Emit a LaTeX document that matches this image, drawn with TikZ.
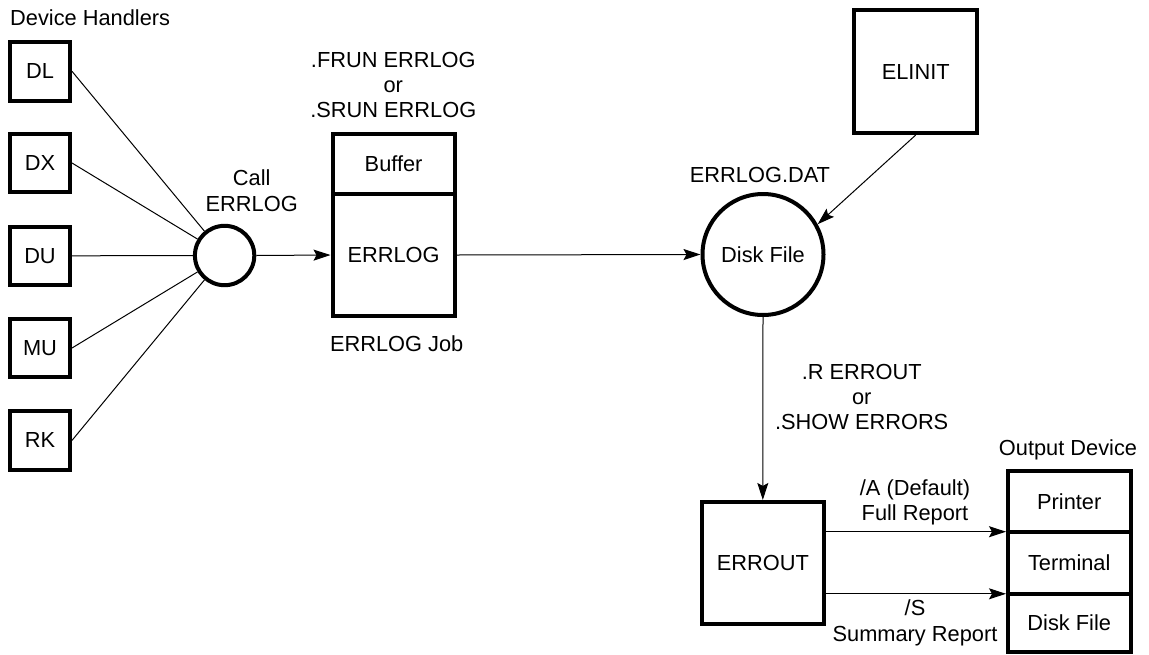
\documentclass[tikz,border=0pt]{standalone}
\usepackage{fontspec}
\setmainfont{Liberation Sans}
\usetikzlibrary{arrows.meta}
\newcommand{\stacked}[1]{\begin{tabular}[t]{@{}c@{}}#1\end{tabular}}
\begin{document}
\begin{tikzpicture}[x=1pt,y=-1pt,
  every node/.style={font=\fontsize{21.8}{25.3}\selectfont, inner sep=0pt},
  box/.style={draw, line width=4pt, rectangle},
  devbox/.style={box, minimum width=60pt, minimum height=58.5pt},
  bigbox/.style={box, minimum width=122pt, minimum height=122pt},
  outbox/.style={box, outer sep=0pt, minimum width=122.5pt},
  ring/.style={draw, line width=4pt, circle},
  label/.style={anchor=base},
  feed/.style={line width=1pt},
  arr/.style={line width=1pt, -{Stealth[length=17pt,width=11pt,inset=3pt]}}]

\useasboundingbox (0,0) rectangle (1149,654);

% device handlers
\node[anchor=base west] (devhead) at (10,25) {Device Handlers};
\node[devbox] (dl) at (40,71.3) {DL};
\node[devbox] (dx) at (40,163) {DX};
\node[devbox] (du) at (40,255.8) {DU};
\node[devbox] (mu) at (40,348) {MU};
\node[devbox] (rk) at (40,440.4) {RK};

% call point
\node[ring, minimum size=59.4pt] (call) at (224.6,255.5) {};
\node[label] (calltxt) at (251.7,185.7) {\stacked{Call\\ERRLOG}};

% ERRLOG job
\node[label] (runtxt) at (393.3,67.3) {\stacked{.FRUN ERRLOG\\or\\.SRUN ERRLOG}};
\node[box, minimum width=122.2pt, minimum height=60.1pt] (buffer) at (393.6,163.75) {Buffer};
\node[box, minimum width=122.2pt, minimum height=122.4pt] (errlog) at (393.6,255) {ERRLOG};
\node[label] (jobtxt) at (396.7,351.7) {ERRLOG Job};

% error log file
\node[ring, minimum size=121pt] (disk) at (763,254.5) {Disk File};
\node[label] (dattxt) at (760,182.7) {ERRLOG.DAT};
\node[box, minimum width=122.5pt, minimum height=122.7pt] (elinit) at (915.7,71.7) {ELINIT};

% report program
\node[label] (showtxt) at (861.7,379) {\stacked{.R ERROUT\\or\\.SHOW ERRORS}};
\node[bigbox, minimum width=121.7pt, minimum height=121.7pt] (errout) at (762.8,562.8) {ERROUT};

% output devices
\node[label] (outhead) at (1068,455) {Output Device};
\node[outbox, minimum height=60.4pt] (printer) at (1069.25,501.5) {Printer};
\node[outbox, minimum height=62.1pt] (terminal) at (1069.25,562.75) {Terminal};
\node[outbox, minimum height=58.2pt] (diskout) at (1069.25,622.9) {Disk File};
\node[label] (fulltxt) at (915,495) {\stacked{/A (Default)\\Full Report}};
\node[label] (sumtxt) at (915,615.7) {\stacked{/S\\Summary Report}};

% connectors
\draw[feed] (dl.east) -- (call);
\draw[feed] (dx.east) -- (call);
\draw[feed] (du.east) -- (call);
\draw[feed] (mu.east) -- (call);
\draw[feed] (rk.east) -- (call);
\draw[arr] (call.east) -- (errlog.west);
\draw[arr] (errlog.east) -- (disk.west);
\draw[arr] (elinit.south) -- (disk.29);
\draw[arr] (disk.south) -- (errout.north);
\draw[arr, shorten >=2pt] (errout.east |- printer.south) -- (printer.south west);
\draw[arr, shorten >=2pt] (errout.east |- terminal.south) -- (terminal.south west);
\end{tikzpicture}
\end{document}
